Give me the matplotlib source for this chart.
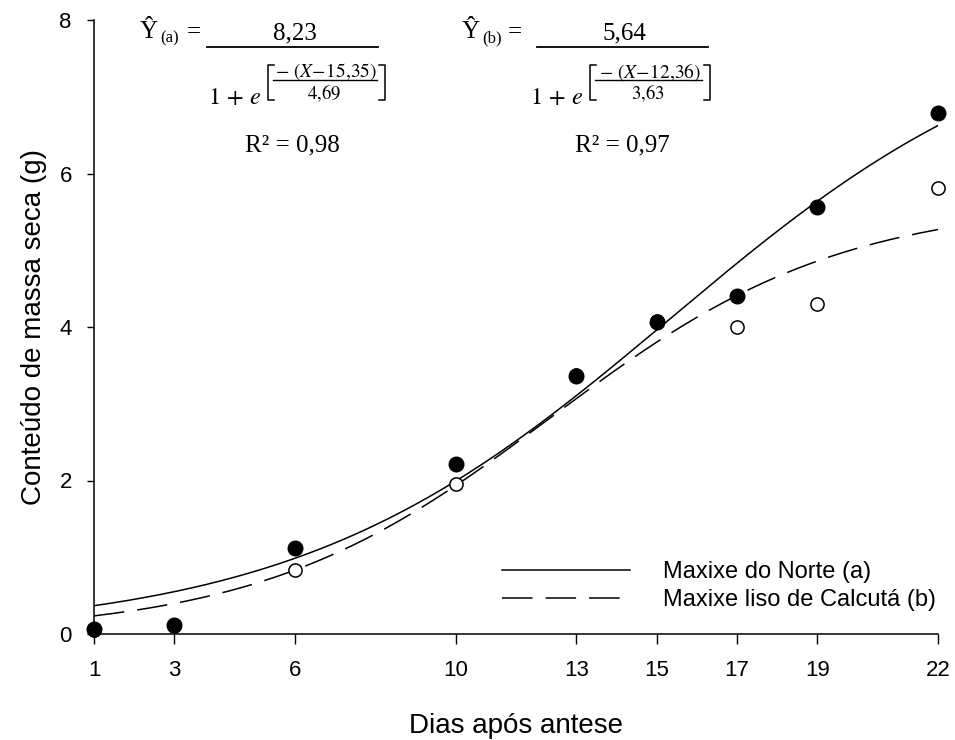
import numpy as np
import matplotlib
matplotlib.use('Agg')
import matplotlib.pyplot as plt
from matplotlib.lines import Line2D

plt.rcParams['font.family'] = ['Liberation Sans', 'DejaVu Sans']
plt.rcParams['mathtext.fontset'] = 'stix'

# days after anthesis
dias = [1, 3, 6, 10, 13, 15, 17, 19, 22]
# dry mass content (g)
massa_a = [0.06, 0.12, 1.12, 2.22, 3.36, 4.06, 4.41, 5.57, 6.79]   # Maxixe do Norte
massa_b = [0.05, 0.11, 0.83, 1.95, 3.38, 4.08, 4.00, 4.30, 5.81]   # Maxixe liso de Calcutá

# logistic fits printed on the chart: a / (1 + exp(-(x - x0) / b))
fit_a = (8.23, 15.35, 4.69)
fit_b = (5.64, 12.36, 3.63)

legend_labels = ['Maxixe do Norte (a)', 'Maxixe liso de Calcutá (b)']
x_ticks = dias
y_ticks = [0, 2, 4, 6, 8]

W, H = 955, 740
fig = plt.figure(figsize=(W / 100, H / 100), dpi=100)
ax = fig.add_axes([94 / W, 1 - 634 / H, (938 - 94) / W, (634 - 20) / H])


def logistic(x, p):
    a, x0, b = p
    return a / (1 + np.exp(-(x - x0) / b))


xs = np.linspace(1, 22, 300)
ax.plot(xs, logistic(xs, fit_a), color='black', lw=1.1)
ax.plot(xs, logistic(xs, fit_b), color='black', lw=1.1, dashes=(20, 8.5))

ax.plot(dias, massa_b, 'o', ms=9.5, mfc='white', mec='black', mew=1.1, clip_on=False, zorder=3)
ax.plot(dias, massa_a, 'o', ms=10.5, mfc='black', mec='black', clip_on=False, zorder=4)

ax.set_xlim(1, 22)
ax.set_ylim(0, 8)
ax.set_xticks(x_ticks)
ax.set_yticks(y_ticks)
for s in ['top', 'right']:
    ax.spines[s].set_visible(False)
for s in ['left', 'bottom']:
    ax.spines[s].set_linewidth(1.1)
ax.tick_params(axis='x', direction='out', length=7, width=1, labelsize=16, pad=12)
ax.tick_params(axis='y', direction='out', length=5, width=1, labelsize=16, pad=11)

ax.set_xlabel('Dias após antese', fontsize=20, labelpad=23)
ax.set_ylabel('Conteúdo de massa seca (g)', fontsize=20, labelpad=9)

handles = [Line2D([], [], color='black', lw=1.1),
           Line2D([], [], color='black', lw=1.1, dashes=(20, 8.5))]
ax.legend(handles, legend_labels, frameon=False, fontsize=17, loc='upper left',
          bbox_to_anchor=(502 / W, 1 - 561 / H), bbox_transform=fig.transFigure,
          borderpad=0, borderaxespad=0, handlelength=5.42, handletextpad=1.4,
          labelspacing=0.25)


# regression equations, placed in pixel coordinates (top-down)
def ptext(x, y, s, **kw):
    fig.text(x / W, 1 - y / H, s, **kw)


def pline(xx, yy, lw=1.2):
    fig.add_artist(Line2D([v / W for v in xx], [1 - v / H for v in yy],
                          color='black', lw=lw, transform=fig.transFigure))


serif = ['Liberation Serif', 'DejaVu Serif']


def equation(x_hat, x_sub, x_eq, bar, x_den, brk, tag, a, x_mid, b, r2):
    ptext(x_hat, 32, 'Ŷ', family=serif, fontsize=18, va='center', ha='left')
    ptext(x_sub, 38, '(' + tag + ')', family=serif, fontsize=12, va='center', ha='left')
    ptext(x_eq, 32, '=', family=serif, fontsize=18, va='center', ha='left')
    pline(bar, [47, 47], lw=1.3)
    mid = (bar[0] + bar[1]) / 2
    ptext(mid + 2, 33, a, family=serif, fontsize=18, va='center', ha='center')
    # denominator 1 + e^[ -(X - x0) / b ]
    ptext(x_den, 98, r'$1\,+\,e$', fontsize=17.5, va='center', ha='left')
    bl, br = brk
    pline([bl + 6, bl, bl, bl + 6], [65, 65, 100, 100], lw=1.1)
    pline([br - 6, br, br, br - 6], [65, 65, 100, 100], lw=1.1)
    pline([bl + 5, br - 8], [80, 80], lw=1.0)
    ptext((bl + br) / 2, 72, r'$-\ (X\!-\!' + x_mid + ')$', fontsize=14,
          va='center', ha='center')
    ptext((bl + br) / 2 - 2, 93, '$' + b + '$', fontsize=13.5, va='center', ha='center')
    ptext(mid, 145, 'R² = ' + r2, family=serif, fontsize=18, va='center', ha='center')


equation(140, 160, 187, [207, 378], 208, [268, 385], 'a', '8,23', '15{,}35', '4{,}69', '0,98')
equation(462, 482, 508, [537, 708], 530, [590, 710], 'b', '5,64', '12{,}36', '3{,}63', '0,97')

fig.savefig('out.png', dpi=100)
